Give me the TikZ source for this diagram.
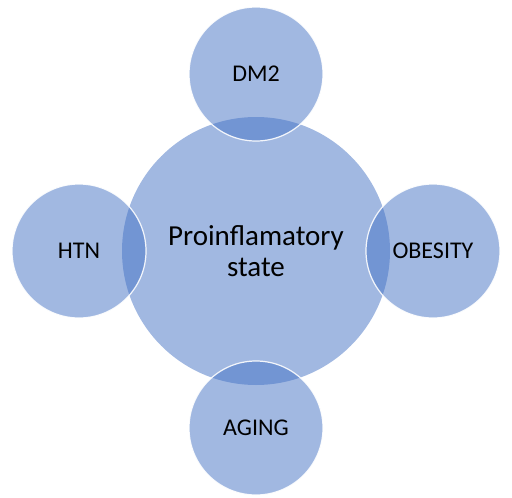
\documentclass[tikz,border=0pt]{standalone}
\usepackage{fontspec}
\setmainfont{Carlito}
\usetikzlibrary{positioning}

\definecolor{bubbleblue}{HTML}{4472C4}

\begin{document}
\begin{tikzpicture}[
    x=1pt, y=-1pt,
    hub/.style={circle, fill=bubbleblue, fill opacity=0.5, text opacity=1, draw=none, minimum size=268pt, inner sep=0pt, outer sep=0pt, align=center, font=\fontsize{29}{31}\selectfont},
    bubble/.style={circle, fill=bubbleblue, fill opacity=0.5, text opacity=1, draw=white, draw opacity=0.9, line width=1.2pt, minimum size=134pt, inner sep=0pt, outer sep=0pt, font=\fontsize{24}{28}\selectfont},
    node distance=-24pt
]

    % Frame
    \useasboundingbox (0,0) rectangle (512,498);

    % Centre circle
    \node[hub] (state) at (256,251) {Proinflamatory\\state};

    % Surrounding circles
    \node[bubble, above=of state] (dm) {DM2};
    \node[bubble, left=of state] (htn) {HTN};
    \node[bubble, right=of state] (obesity) {OBESITY};
    \node[bubble, below=of state] (aging) {AGING};

\end{tikzpicture}
\end{document}
